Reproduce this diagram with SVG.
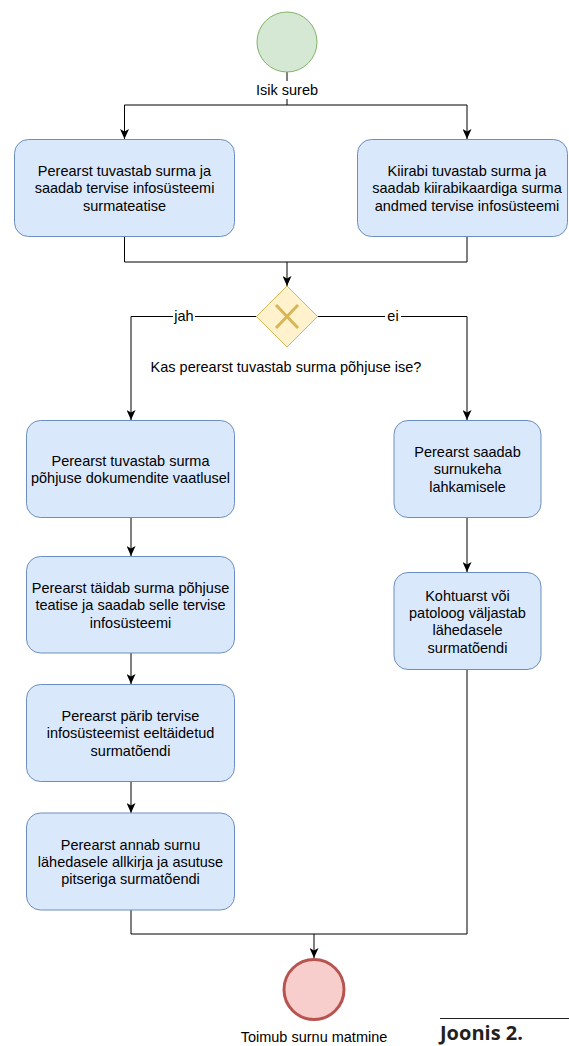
<svg xmlns="http://www.w3.org/2000/svg" width="569" height="1046" viewBox="0 0 569 1046">
<style>
.box{fill:#dae8fc;stroke:#6c8ebf;stroke-width:1}
.t{font-family:"Liberation Sans",Arial,sans-serif;font-size:14.5px;fill:#000;text-anchor:middle}
.e{fill:none;stroke:#000;stroke-width:1}
.lbg{fill:#fff}
</style>
<defs>
<marker id="arr" markerUnits="userSpaceOnUse" markerWidth="10" markerHeight="9" viewBox="0 0 10 9" refX="10" refY="4.5" orient="auto">
<path d="M0,0 L10,4.5 L0,9 L2.5,4.5 Z" fill="#000"/>
</marker>
</defs>
<rect width="569" height="1046" fill="#fff"/>
<g id="connectors">
<path class="e" d="M287,72 V105"/>
<path class="e" d="M124.5,105 H467" />
<path class="e" d="M124.5,105 V139" marker-end="url(#arr)"/>
<path class="e" d="M467,105 V139" marker-end="url(#arr)"/>
<path class="e" d="M124.5,237 V262 H467 V237"/>
<path class="e" d="M287,262 V286" marker-end="url(#arr)"/>
<path class="e" d="M256.5,316.5 H131 V420" marker-end="url(#arr)"/>
<path class="e" d="M317.5,316.5 H467 V420" marker-end="url(#arr)"/>
<path class="e" d="M131,518 V556" marker-end="url(#arr)"/>
<path class="e" d="M131,653 V684" marker-end="url(#arr)"/>
<path class="e" d="M131,781 V813" marker-end="url(#arr)"/>
<path class="e" d="M467,518 V572" marker-end="url(#arr)"/>
<path class="e" d="M131,910 V934 H467 V670"/>
<path class="e" d="M314,934 V958" marker-end="url(#arr)"/>
<rect class="lbg" x="255" y="81" width="64" height="18"/>
<text class="t" x="287" y="95">Isik sureb</text>
<rect class="lbg" x="173" y="308" width="22" height="17"/>
<text class="t" x="184" y="321">jah</text>
<rect class="lbg" x="385" y="308" width="16" height="17"/>
<text class="t" x="393" y="321">ei</text>
</g>
<g id="start">
<circle cx="287" cy="42" r="30" fill="#d5e8d4" stroke="#82b366" stroke-width="1"/>
</g>
<g id="box1">
<rect class="box" x="14.5" y="139.5" width="220" height="97" rx="14"/>
<text class="t" x="124.5" y="176">Perearst tuvastab surma ja</text>
<text class="t" x="124.5" y="193.4">saadab tervise infosüsteemi</text>
<text class="t" x="124.5" y="210.8">surmateatise</text>
</g>
<g id="box2">
<rect class="box" x="357.5" y="139.5" width="210" height="97" rx="14"/>
<text class="t" x="467" y="176">Kiirabi tuvastab surma ja</text>
<text class="t" x="467" y="193.4">saadab kiirabikaardiga surma</text>
<text class="t" x="467" y="210.8">andmed tervise infosüsteemi</text>
</g>
<g id="gateway">
<path d="M287,286 L317.5,316.5 L287,347 L256.5,316.5 Z" fill="#fff2cc" stroke="#d6b656" stroke-width="1"/>
<path d="M276,305 L298,328 M298,305 L276,328" stroke="#d6b656" stroke-width="3" fill="none"/>
<text class="t" x="286" y="371.5">Kas perearst tuvastab surma põhjuse ise?</text>
</g>
<g id="box3">
<rect class="box" x="26.5" y="420.5" width="208" height="97" rx="14"/>
<text class="t" x="130.5" y="465.5">Perearst tuvastab surma</text>
<text class="t" x="130.5" y="482.9">põhjuse dokumendite vaatlusel</text>
</g>
<g id="box4">
<rect class="box" x="26.5" y="556.5" width="208" height="96.5" rx="14"/>
<text class="t" x="130.5" y="593">Perearst täidab surma põhjuse</text>
<text class="t" x="130.5" y="610.4">teatise ja saadab selle tervise</text>
<text class="t" x="130.5" y="627.8">infosüsteemi</text>
</g>
<g id="box5">
<rect class="box" x="26.5" y="684.5" width="208" height="97" rx="14"/>
<text class="t" x="130.5" y="721">Perearst pärib tervise</text>
<text class="t" x="130.5" y="738.4">infosüsteemist eeltäidetud</text>
<text class="t" x="130.5" y="755.8">surmatõendi</text>
</g>
<g id="box6">
<rect class="box" x="26.5" y="813" width="208" height="97" rx="14"/>
<text class="t" x="130.5" y="849.5">Perearst annab surnu</text>
<text class="t" x="130.5" y="866.9">lähedasele allkirja ja asutuse</text>
<text class="t" x="130.5" y="884.3">pitseriga surmatõendi</text>
</g>
<g id="box7">
<rect class="box" x="394" y="420.5" width="147" height="97" rx="14"/>
<text class="t" x="467.5" y="457">Perearst saadab</text>
<text class="t" x="467.5" y="474.4">surnukeha</text>
<text class="t" x="467.5" y="491.8">lahkamisele</text>
</g>
<g id="box8">
<rect class="box" x="394" y="572.5" width="147" height="97" rx="14"/>
<text class="t" x="467.5" y="600.5">Kohtuarst või</text>
<text class="t" x="467.5" y="617.9">patoloog väljastab</text>
<text class="t" x="467.5" y="635.3">lähedasele</text>
<text class="t" x="467.5" y="652.7">surmatõendi</text>
</g>
<g id="end">
<circle cx="314" cy="989.5" r="30" fill="#f8cecc" stroke="#b85450" stroke-width="3"/>
<text class="t" x="314" y="1042">Toimub surnu matmine</text>
</g>
<g id="caption">
<line x1="440" y1="1018.5" x2="569" y2="1018.5" stroke="#231f20" stroke-width="1"/>
<text x="440" y="1040" font-family="'Open Sans',sans-serif" font-weight="bold" font-size="20" fill="#231f20">Joonis 2.</text>
</g>
</svg>
